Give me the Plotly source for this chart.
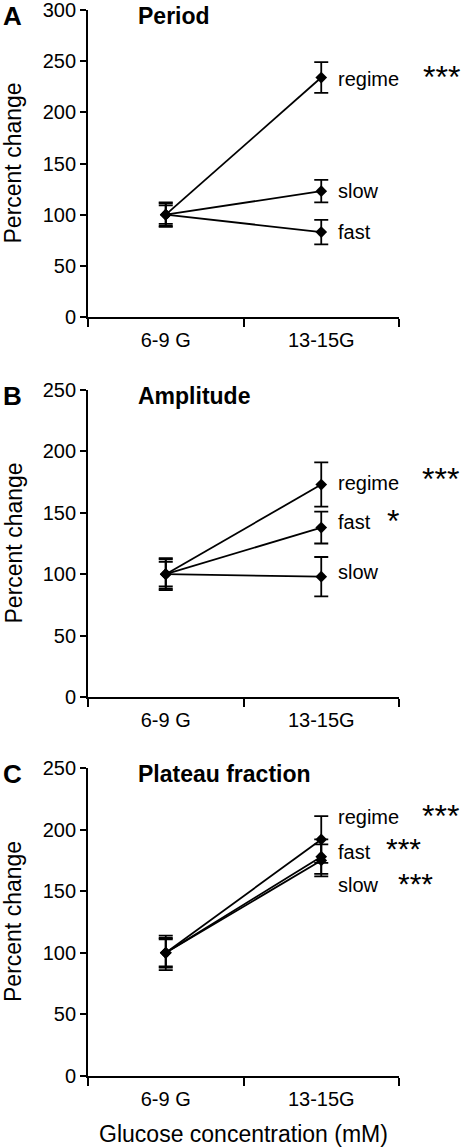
import plotly.graph_objects as go

categories = ["6-9 G", "13-15G"]

# Panel A: Period
period_regime = [100, 234]
period_regime_err = [11, 15]
period_slow = [100, 123]
period_slow_err = [9, 11]
period_fast = [100, 83]
period_fast_err = [12, 12]

# Panel B: Amplitude
amp_regime = [100, 173]
amp_regime_err = [13, 18]
amp_fast = [100, 138]
amp_fast_err = [10, 13]
amp_slow = [100, 98]
amp_slow_err = [12, 16]

# Panel C: Plateau fraction
plat_regime = [100, 192]
plat_regime_err = [14, 19]
plat_fast = [100, 178]
plat_fast_err = [11, 14]
plat_slow = [100, 175]
plat_slow_err = [12, 13]

W, H = 465, 1147
FONT = "Liberation Sans, Arial, sans-serif"

def px_x(p):
    return p / W

def px_y(p):
    return 1 - p / H

x_dom = [px_x(88), px_x(399)]
panels = [
    dict(top=10, bot=317, ymax=300, title="Period", letter="A",
         series=[(period_regime, period_regime_err, "regime", "***"),
                 (period_slow, period_slow_err, "slow", ""),
                 (period_fast, period_fast_err, "fast", "")]),
    dict(top=390, bot=697, ymax=250, title="Amplitude", letter="B",
         series=[(amp_regime, amp_regime_err, "regime", "***"),
                 (amp_fast, amp_fast_err, "fast", "*"),
                 (amp_slow, amp_slow_err, "slow", "")]),
    dict(top=768, bot=1076, ymax=250, title="Plateau fraction", letter="C",
         series=[(plat_regime, plat_regime_err, "regime", "***"),
                 (plat_fast, plat_fast_err, "fast", "***"),
                 (plat_slow, plat_slow_err, "slow", "***")]),
]

# label positions (data units) and star x positions (px)
label_y = [
    [233, 123.5, 83],
    [174, 142.5, 102],
    [210.5, 182, 155],
]
star_x = [
    [421, None, None],
    [420, 385, None],
    [420, 384, 396],
]
star_y = [
    [234.5, None, None],
    [177.5, 143, None],
    [211, 184.5, 156],
]
star_size = [
    [32, None, None],
    [32, 32, None],
    [32, 30, 30],
]

fig = go.Figure()
annotations = []
layout = {}

for i, p in enumerate(panels):
    n = "" if i == 0 else str(i + 1)
    xa, ya = "x" + n, "y" + n
    for vals, err, name, star in p["series"]:
        fig.add_trace(go.Scatter(
            x=categories, y=vals, xaxis=xa, yaxis=ya, mode="lines+markers",
            line=dict(color="black", width=1.8),
            marker=dict(symbol="diamond", size=9, color="black"),
            error_y=dict(type="data", array=err, visible=True, color="black",
                         thickness=1.8, width=7),
            showlegend=False, hoverinfo="skip", cliponaxis=False))
    ydom = [px_y(p["bot"]), px_y(p["top"])]
    layout["xaxis" + n] = dict(
        domain=x_dom, anchor=ya, type="category", range=[-0.5, 1.5],
        tickson="boundaries", ticks="outside", ticklen=8, tickwidth=1.8,
        tickcolor="black", showline=True, linecolor="black", linewidth=1.8,
        showgrid=False, zeroline=False, automargin=False,
        ticklabeloverflow="allow", ticklabelstandoff=4,
        tickfont=dict(family=FONT, size=20, color="black"),
        title=dict(text="Glucose concentration (mM)" if i == 2 else "",
                   font=dict(family=FONT, size=23, color="black"), standoff=18),
        fixedrange=True)
    layout["yaxis" + n] = dict(
        domain=ydom, anchor=xa, range=[0, p["ymax"]], dtick=50, tick0=0,
        ticks="outside", ticklen=6, tickwidth=1.8, tickcolor="black",
        showline=True, linecolor="black", linewidth=1.8, showgrid=False,
        zeroline=False, automargin=False, ticklabeloverflow="allow",
        tickfont=dict(family=FONT, size=20, color="black"),
        fixedrange=True)
    # y title
    annotations.append(dict(
        text="Percent change", xref="paper", yref="paper",
        x=px_x(13), y=(ydom[0] + ydom[1]) / 2, xanchor="center", yanchor="middle",
        textangle=-90, showarrow=False,
        font=dict(family=FONT, size=23, color="black")))
    # panel title
    annotations.append(dict(
        text="<b>" + p["title"] + "</b>", xref="paper", yref="paper",
        x=px_x(136), y=px_y(p["top"] + 6), xanchor="left", yanchor="middle",
        showarrow=False, font=dict(family=FONT, size=23, color="black")))
    # panel letter
    annotations.append(dict(
        text="<b>" + p["letter"] + "</b>", xref="paper", yref="paper",
        x=px_x(1), y=px_y(p["top"] + 6), xanchor="left", yanchor="middle",
        showarrow=False, font=dict(family=FONT, size=26, color="black")))
    for j, (vals, err, name, star) in enumerate(p["series"]):
        annotations.append(dict(
            text=name, xref="paper", yref=ya, x=px_x(336), y=label_y[i][j],
            xanchor="left", yanchor="middle", showarrow=False,
            font=dict(family=FONT, size=20, color="black")))
        if star:
            annotations.append(dict(
                text=star, xref="paper", yref=ya, x=px_x(star_x[i][j]),
                y=star_y[i][j], xanchor="left", yanchor="middle", showarrow=False,
                font=dict(family=FONT, size=star_size[i][j], color="black")))

fig.update_layout(
    width=W, height=H, margin=dict(l=0, r=0, t=0, b=0),
    paper_bgcolor="white", plot_bgcolor="white", template="none",
    annotations=annotations, **layout)

fig.write_html("out.html", config={"displayModeBar": False},
               post_script="document.body.style.margin='0';document.body.style.overflow='hidden';")
